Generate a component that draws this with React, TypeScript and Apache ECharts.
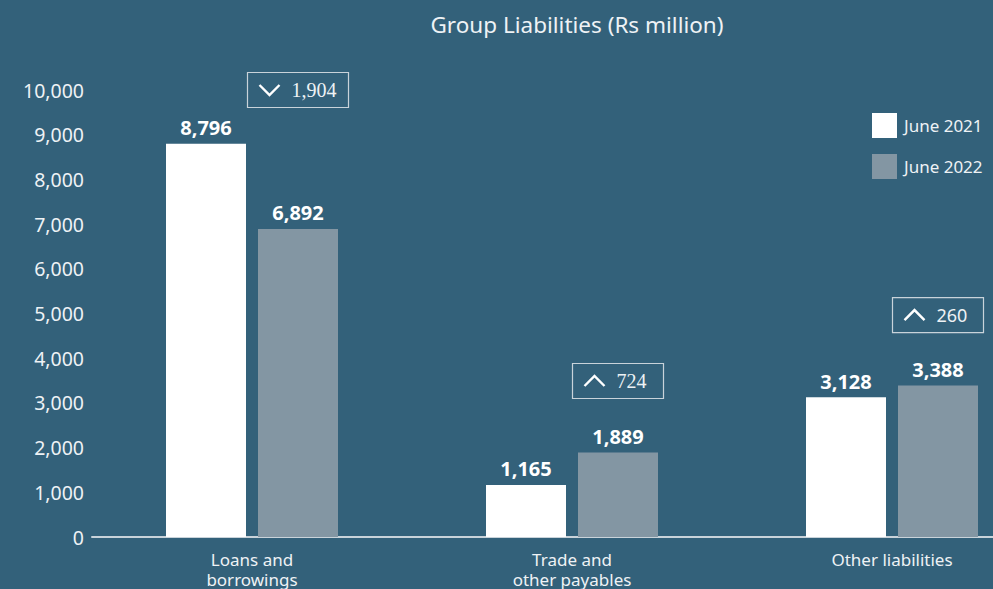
import React, { useEffect, useRef } from "react";
import * as echarts from "echarts";

const categories = ["Loans and\nborrowings", "Trade and\nother payables", "Other liabilities"];
const june2021 = [8796, 1165, 3128];
const june2022 = [6892, 1889, 3388];
const changeLabels = ["1,904", "724", "260"];
const changeDirections = ["down", "up", "up"];
const changeLevels = [10000, 3490, 4965];
const yTicks = [0, 10000];

const BG = "#33617a";
const GREY = "#8396a3";
const TXT = "#eef2f5";

export default function App() {
  const ref = useRef<HTMLDivElement>(null);
  useEffect(() => {
    document.body.style.margin = "0";
    const chart = echarts.init(ref.current!, null, { renderer: "svg" });
    const sans = "'Noto Sans', sans-serif";
    chart.setOption({
      animation: false,
      backgroundColor: BG,
      title: {
        text: "Group Liabilities (Rs million)",
        left: 572,
        textAlign: "center",
        top: 8,
        textStyle: { color: TXT, fontFamily: sans, fontSize: 22.5, fontWeight: "normal" },
      },
      legend: {
        orient: "vertical",
        left: 867,
        top: 108,
        itemWidth: 25,
        itemHeight: 25,
        itemGap: 16,
        icon: "rect",
        textStyle: { color: TXT, fontFamily: sans, fontSize: 17, padding: [0, 0, 0, 2] },
        data: ["June 2021", "June 2022"],
      },
      grid: { left: 92, right: -59, top: 90, bottom: 52, containLabel: false, outerBoundsMode: "none" },
      xAxis: {
        type: "category",
        data: categories,
        axisLine: { lineStyle: { color: "#c9d3da", width: 2 } },
        axisTick: { show: false },
        axisLabel: { color: TXT, fontFamily: sans, fontSize: 17, margin: 12, lineHeight: 20 },
      },
      yAxis: {
        type: "value",
        min: yTicks[0],
        max: yTicks[1],
        interval: 1000,
        splitLine: { show: false },
        axisLabel: {
          color: TXT,
          fontFamily: sans,
          fontSize: 19.5,
          margin: 8,
          formatter: (v: number) => v.toLocaleString("en-US"),
        },
      },
      series: [
        {
          name: "June 2021",
          type: "bar",
          data: june2021,
          barWidth: 80,
          barGap: "15%",
          itemStyle: { color: "#ffffff" },
          label: {
            show: true,
            position: "top",
            distance: 6,
            color: "#ffffff",
            fontFamily: sans,
            fontSize: 20,
            fontWeight: "bold",
            formatter: (p: any) => p.value.toLocaleString("en-US"),
          },
        },
        {
          name: "June 2022",
          type: "bar",
          data: june2022,
          barWidth: 80,
          itemStyle: { color: GREY },
          label: {
            show: true,
            position: "top",
            distance: 6,
            color: "#ffffff",
            fontFamily: sans,
            fontSize: 20,
            fontWeight: "bold",
            formatter: (p: any) => p.value.toLocaleString("en-US"),
          },
        },
      ],
    });

    const graphics: any[] = [];
    categories.forEach((c, i) => {
      const cx = chart.convertToPixel({ xAxisIndex: 0 }, i) as number;
      const cy = chart.convertToPixel({ yAxisIndex: 0 }, changeLevels[i]) as number;
      const bx = cx + 46;
      const w = i === 0 ? 101 : 91;
      const h = 35;
      const left = bx - w / 2;
      const top = cy - h / 2;
      const up = changeDirections[i] === "up";
      const chevX = left + 12;
      const chevY = cy;
      graphics.push({
        type: "group",
        children: [
          {
            type: "rect",
            shape: { x: left, y: top, width: w, height: h },
            style: { fill: "none", stroke: "#c9d3da", lineWidth: 1.2 },
          },
          {
            type: "polyline",
            shape: {
              points: up
                ? [[chevX, chevY + 5], [chevX + 10, chevY - 5], [chevX + 20, chevY + 5]]
                : [[chevX, chevY - 5], [chevX + 10, chevY + 5], [chevX + 20, chevY - 5]],
            },
            style: { stroke: "#ffffff", lineWidth: 2.4, fill: "none" },
          },
          {
            type: "text",
            x: chevX + 32,
            y: cy,
            style: {
              text: changeLabels[i],
              fill: TXT,
              font: i === 2 ? "18px 'Noto Sans', sans-serif" : "20px 'Liberation Serif', serif",
              textVerticalAlign: "middle",
              verticalAlign: "middle",
            },
          },
        ],
      });
    });
    chart.setOption({ graphic: graphics });
    return () => chart.dispose();
  }, []);
  return <div ref={ref} style={{ width: 993, height: 589 }} />;
}
